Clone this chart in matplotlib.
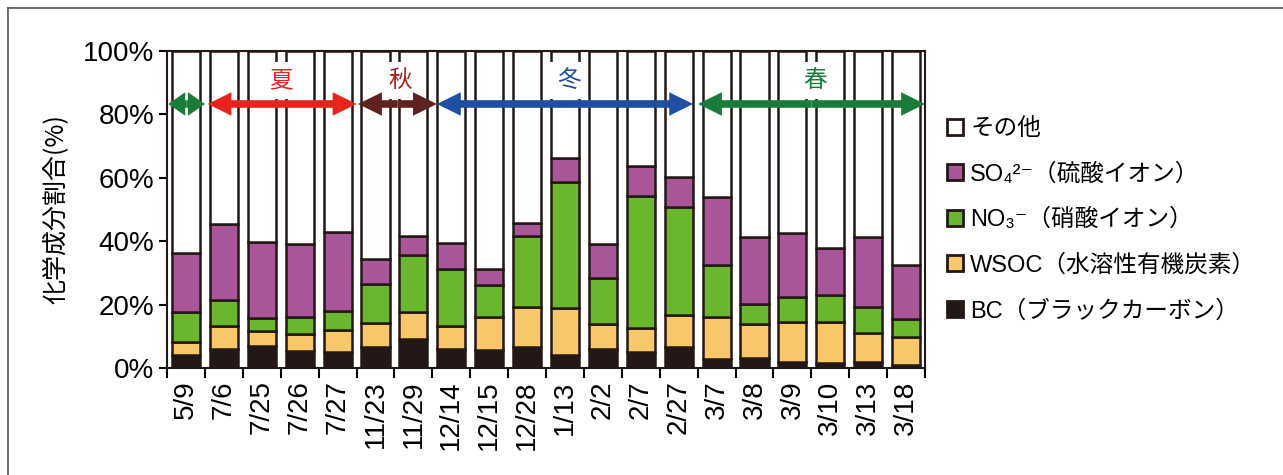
import matplotlib
matplotlib.use('Agg')
import matplotlib.pyplot as plt
from matplotlib.lines import Line2D
import numpy as np

# sample dates
dates = ['5/9', '7/6', '7/25', '7/26', '7/27', '11/23', '11/29', '12/14', '12/15', '12/28',
         '1/13', '2/2', '2/7', '2/27', '3/7', '3/8', '3/9', '3/10', '3/13', '3/18']

# composition in % (bottom to top)
bc = [4.1, 5.9, 6.9, 5.5, 5.1, 6.5, 9.0, 5.9, 5.7, 6.5,
      4.2, 5.9, 4.9, 6.7, 2.7, 3.0, 1.8, 1.5, 1.8, 1.0]
wsoc = [4.2, 7.3, 4.8, 5.2, 6.9, 7.8, 8.6, 7.2, 10.3, 12.8,
        14.8, 8.0, 7.6, 10.0, 13.3, 10.8, 12.6, 13.1, 9.1, 8.9]
no3 = [9.4, 8.2, 4.0, 5.3, 6.0, 12.2, 17.9, 18.0, 10.2, 22.4,
       39.7, 14.4, 41.7, 34.1, 16.5, 6.3, 7.9, 8.4, 8.2, 5.4]
so4 = [18.5, 24.0, 24.1, 23.2, 24.8, 7.8, 6.1, 8.2, 4.9, 3.9,
       7.4, 10.7, 9.3, 9.5, 21.5, 21.3, 20.1, 14.7, 22.1, 17.2]
other = [63.8, 54.6, 60.2, 60.8, 57.2, 65.7, 58.4, 60.7, 68.9, 54.4,
         33.9, 61.0, 36.5, 39.7, 46.0, 58.6, 57.6, 62.3, 58.8, 67.5]

names = ['BC（ブラックカーボン）', 'WSOC（水溶性有機炭素）', 'NO₃⁻（硝酸イオン）',
         'SO₄²⁻（硫酸イオン）', 'その他']
colors = ['#231815', '#f8c76a', '#6ab72e', '#a9559a', '#ffffff']

# seasons: (label, start, end, text x, colour of arrow, colour of text)
seasons = [
    ('', -0.47, 0.50, None, '#1a7c3a', '#1a7c3a'),
    ('夏', 0.57, 4.50, 2.5, '#e8231e', '#e8231e'),
    ('秋', 4.54, 6.62, 5.65, '#5e2320', '#a8201e'),
    ('冬', 6.62, 13.38, 10.1, '#1f4fa0', '#1f4fa0'),
    ('春', 13.51, 19.50, 16.6, '#1a7c3a', '#1a7c3a'),
]

latin = ['Liberation Sans', 'Noto Sans CJK JP', 'DejaVu Sans']
plt.rcParams['font.family'] = latin

fig = plt.figure(figsize=(12.83, 4.75), dpi=100)
ax = fig.add_axes([0.1302, 0.2253, 0.5908, 0.668])

x = np.arange(len(dates))
edge = '#231815'
bottom = np.zeros(len(dates))
for vals, col in zip([bc, wsoc, no3, so4, other], colors):
    ax.bar(x, vals, bottom=bottom, width=0.74, color=col, edgecolor=edge,
           linewidth=1.8, zorder=2)
    bottom += np.array(vals)

ax.set_xlim(-0.5, len(dates) - 0.5)
ax.set_ylim(0, 100)

# season arrows
ya = 83.2
for lab, x0, x1, tx, acol, tcol in seasons:
    mid = (x0 + x1) / 2
    hl = 0.45 if lab == '' else 0.63
    for end in (x0, x1):
        ax.arrow(mid, ya, end - mid, 0, width=2.4, head_width=7.4, head_length=hl,
                 length_includes_head=True, fc=acol, ec='none', lw=0, zorder=5)
    if lab:
        ax.text(tx, 90.6, lab, color=tcol, fontsize=17, ha='center', va='center',
                family=['Noto Sans CJK JP'], zorder=4,
                bbox=dict(fc='white', ec='none', pad=5))

# ticks
ax.set_xticks(np.arange(-0.5, len(dates), 1))
ax.set_xticklabels([])
ax.set_xticks(x, minor=True)
ax.set_xticklabels(dates, minor=True, rotation=90, fontsize=20)
ax.tick_params(axis='x', which='major', length=7, width=1.5, direction='out')
ax.tick_params(axis='x', which='minor', length=0, pad=9)
ax.set_yticks(np.arange(0, 101, 20))
ax.set_yticklabels([f'{v}%' for v in range(0, 101, 20)], fontsize=20)
ax.tick_params(axis='y', length=6, width=1.5, direction='out', pad=3)
for s in ax.spines.values():
    s.set_linewidth(1.5)
    s.set_color(edge)

ax.set_ylabel('化学成分割合(%)', fontsize=18, family=['Noto Sans CJK JP'], labelpad=10)

# legend
handles = [Line2D([], [], marker='s', ls='none', markersize=12, mfc=c, mec=edge, mew=2)
           for c in colors[::-1]]
fig.legend(handles, names[::-1], loc='upper left', bbox_to_anchor=(0.735, 0.752),
           frameon=False, prop={'family': latin, 'size': 17}, handletextpad=0.15,
           labelspacing=0.98, borderpad=0, borderaxespad=0, handlelength=1.0)

# frame lines of the original panel
fig.add_artist(Line2D([8 / 1283, 1], [1 - 8 / 475, 1 - 8 / 475], color='#555555', lw=1.2))
fig.add_artist(Line2D([8 / 1283, 8 / 1283], [0, 1 - 8 / 475], color='#555555', lw=1.2))

fig.savefig('out.png', dpi=100)
